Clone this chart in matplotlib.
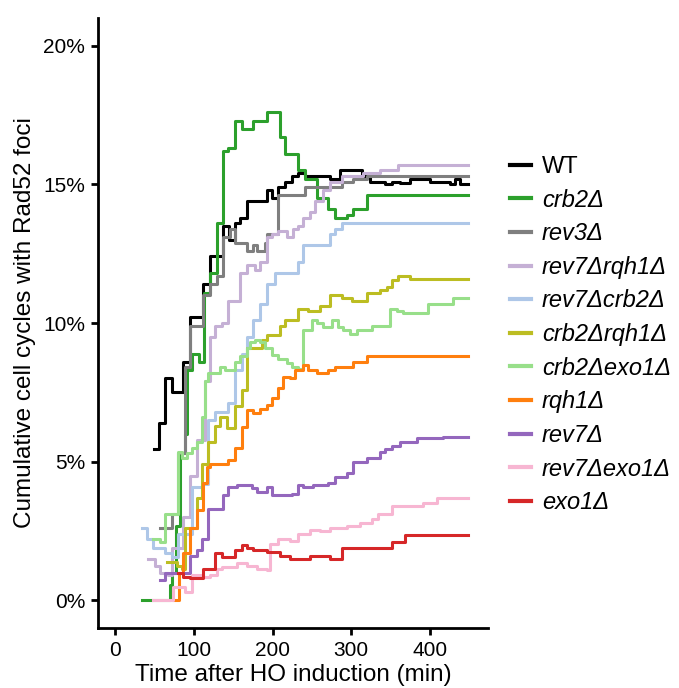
import matplotlib
matplotlib.use('Agg')
import matplotlib.pyplot as plt
from matplotlib.ticker import FuncFormatter

plt.rcParams['font.family'] = ['Liberation Sans', 'DejaVu Sans']

T_END = 448

# step data: time (min) and cumulative % of cell cycles
wt_t = [50, 56, 64, 72, 86, 95, 112, 121, 137, 145, 152, 159, 168, 184, 193, 199, 207, 216,
        225, 232, 241, 254, 273, 286, 298, 314, 324, 343, 352, 362, 375, 400, 425, 432, 438]
wt_v = [5.45, 6.4, 8.0, 7.5, 8.6, 10.2, 11.4, 12.4, 13.5, 13.0, 13.6, 13.8, 14.4, 14.4, 14.8, 14.5,
        14.9, 15.1, 15.3, 15.4, 15.3, 15.3, 15.2, 15.5, 15.5, 15.3, 15.1, 15.0, 15.1, 15.05, 15.2,
        15.1, 15.0, 15.2, 15.0]

crb2_t = [34, 70, 72, 78, 83, 89, 91, 98, 106, 113, 121, 130, 137, 143, 152, 161, 175, 193, 210,
          216, 232, 241, 257, 270, 279, 295, 302, 320]
crb2_v = [0, 0.55, 1.0, 2.7, 5.3, 6.0, 8.3, 8.9, 8.6, 11.1, 11.8, 13.6, 16.2, 16.3, 17.3, 17.0,
          17.3, 17.6, 16.7, 16.1, 15.5, 15.2, 14.5, 14.1, 13.8, 13.9, 14.1, 14.6]

rev3_t = [57, 72, 80, 89, 95, 112, 121, 130, 137, 146, 152, 168, 175, 180, 190, 193, 207, 241,
          288, 302, 320]
rev3_v = [2.6, 3.1, 5.3, 8.4, 9.9, 11.0, 11.4, 11.7, 13.1, 13.4, 12.9, 12.6, 12.8, 12.6, 12.9,
          13.2, 14.6, 14.9, 15.1, 15.2, 15.3]

rev7rqh1_t = [42, 51, 57, 67, 72, 86, 95, 104, 114, 121, 127, 136, 144, 159, 168, 178, 184, 193,
              199, 207, 218, 226, 232, 239, 248, 254, 264, 273, 288, 315, 337, 359]
rev7rqh1_v = [1.5, 1.25, 1.0, 0.9, 1.9, 3.0, 4.5, 5.8, 7.9, 9.5, 9.9, 10.0, 10.8, 11.8, 12.1,
              11.9, 12.2, 13.1, 13.2, 13.3, 13.1, 13.4, 13.5, 13.8, 14.0, 14.4, 14.8, 15.1, 15.3,
              15.4, 15.5, 15.7]

rev7crb2_t = [34, 41, 48, 64, 72, 80, 98, 110, 118, 127, 144, 152, 161, 168, 175, 184, 193, 203,
              232, 239, 273, 279, 288]
rev7crb2_v = [2.6, 2.2, 1.9, 1.7, 1.55, 2.4, 4.1, 4.2, 6.5, 6.8, 7.1, 8.3, 8.9, 9.5, 10.1, 10.7,
              11.4, 11.8, 12.2, 12.8, 13.2, 13.4, 13.6]

crb2rqh1_t = [66, 79, 85, 89, 104, 110, 118, 127, 133, 142, 152, 161, 168, 187, 193, 210, 216,
              232, 245, 260, 273, 288, 301, 320, 337, 345, 352, 359, 375]
crb2rqh1_v = [1.4, 1.25, 1.15, 2.6, 3.7, 4.9, 5.7, 6.3, 6.6, 6.2, 7.0, 7.6, 9.1, 9.4, 9.55, 9.9,
              10.1, 10.5, 10.45, 10.6, 11.0, 10.9, 10.8, 11.1, 11.2, 11.3, 11.55, 11.7, 11.6]

crb2exo1_t = [48, 57, 64, 80, 85, 91, 98, 104, 110, 114, 118, 133, 140, 152, 159, 168, 171, 178,
              184, 190, 199, 207, 218, 225, 232, 239, 250, 257, 264, 276, 283, 290, 298, 307, 326,
              349, 358, 366, 398, 429]
crb2exo1_v = [2.2, 2.1, 3.1, 5.35, 5.15, 5.3, 5.5, 5.7, 6.6, 7.9, 8.2, 8.4, 8.3, 8.6, 8.8, 9.1,
              9.3, 9.4, 9.3, 9.1, 8.85, 8.7, 8.55, 8.4, 8.35, 9.75, 10.1, 10.0, 9.85, 10.1, 9.85,
              9.75, 9.6, 9.75, 9.9, 10.5, 10.45, 10.35, 10.7, 10.9]

rqh1_t = [75, 81, 86, 95, 104, 112, 117, 121, 144, 152, 161, 168, 175, 184, 193, 199, 207, 213,
          222, 229, 239, 245, 257, 270, 279, 302, 320]
rqh1_v = [0, 1.0, 1.7, 2.6, 3.25, 4.25, 4.8, 4.9, 5.05, 5.5, 6.25, 6.85, 6.75, 6.9, 7.05, 7.3,
          7.65, 8.05, 8.0, 8.3, 8.5, 8.3, 8.2, 8.3, 8.4, 8.6, 8.8]

rev7_t = [57, 64, 95, 104, 110, 118, 137, 144, 155, 174, 180, 193, 199, 225, 232, 239, 251, 270,
          279, 295, 302, 320, 337, 343, 352, 362, 384, 417]
rev7_v = [0.75, 1.0, 1.6, 1.8, 2.2, 3.3, 3.8, 4.1, 4.15, 4.05, 3.9, 4.1, 3.8, 3.85, 4.15, 4.1,
          4.15, 4.25, 4.45, 4.6, 5.0, 5.15, 5.35, 5.45, 5.55, 5.7, 5.85, 5.9]

rev7exo1_t = [48, 74, 89, 98, 112, 121, 130, 136, 155, 168, 180, 193, 197, 207, 222, 232, 248,
              260, 273, 295, 311, 326, 334, 352, 391, 409]
rev7exo1_v = [0, 0.5, 0.3, 0.9, 0.83, 0.9, 1.15, 1.2, 1.35, 1.25, 1.15, 1.1, 2.05, 2.2, 2.15,
              2.4, 2.55, 2.5, 2.6, 2.7, 2.8, 2.95, 3.1, 3.4, 3.5, 3.7]

exo1_t = [80, 86, 95, 112, 127, 136, 152, 161, 168, 175, 193, 210, 222, 248, 273, 288, 352, 368]
exo1_v = [1.0, 0.83, 0.8, 1.15, 1.7, 1.55, 1.8, 2.0, 1.9, 1.8, 1.75, 1.6, 1.5, 1.6, 1.5, 1.9,
          2.1, 2.35]

series = [
    ('WT', wt_t, wt_v, 'black'),
    ('crb2Δ', crb2_t, crb2_v, '#2ca02c'),
    ('rev3Δ', rev3_t, rev3_v, '#7f7f7f'),
    ('rev7Δrqh1Δ', rev7rqh1_t, rev7rqh1_v, '#c5b0d5'),
    ('rev7Δcrb2Δ', rev7crb2_t, rev7crb2_v, '#aec7e8'),
    ('crb2Δrqh1Δ', crb2rqh1_t, crb2rqh1_v, '#bcbd22'),
    ('crb2Δexo1Δ', crb2exo1_t, crb2exo1_v, '#98df8a'),
    ('rqh1Δ', rqh1_t, rqh1_v, '#ff7f0e'),
    ('rev7Δ', rev7_t, rev7_v, '#9467bd'),
    ('rev7Δexo1Δ', rev7exo1_t, rev7exo1_v, '#f7b6d2'),
    ('exo1Δ', exo1_t, exo1_v, '#d62728'),
]

fig = plt.figure(figsize=(6.79, 6.88), dpi=100)
ax = fig.add_axes([0.144, 0.087, 0.575, 0.887])

for name, t, v, col in series:
    ax.step(t + [T_END], v + [v[-1]], where='post', color=col, lw=2.2, label=name)

ax.set_xlim(-22, 474)
ax.set_ylim(-1.0, 21.0)
ax.set_xticks([0, 100, 200, 300, 400])
ax.set_yticks([0, 5, 10, 15, 20])
ax.yaxis.set_major_formatter(FuncFormatter(lambda y, p: f'{int(y)}%'))

for s in ['top', 'right']:
    ax.spines[s].set_visible(False)
for s in ['left', 'bottom']:
    ax.spines[s].set_linewidth(2.0)
ax.tick_params(width=2.0, length=5, labelsize=15, colors='black', pad=4)

ax.set_xlabel('Time after HO induction (min)', fontsize=17.5, labelpad=3)
ax.set_ylabel('Cumulative cell cycles with Rad52 foci', fontsize=17.5, labelpad=5)

leg = fig.legend(loc='center left', bbox_to_anchor=(0.751, 0.513), frameon=False,
                 fontsize=17, handlelength=0.9, handletextpad=0.45, labelspacing=0.45,
                 borderpad=0, borderaxespad=0)
for line in leg.get_lines():
    line.set_linewidth(3.0)
for txt in leg.get_texts()[1:]:
    txt.set_fontstyle('italic')

plt.savefig('out.png', dpi=100)
